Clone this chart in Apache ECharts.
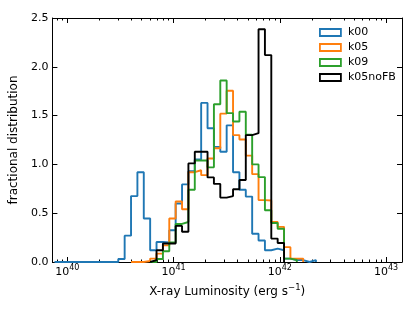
<!DOCTYPE html>
<html><head><meta charset="utf-8">
<script src="https://cdn.jsdelivr.net/npm/echarts@6/dist/echarts.min.js"></script>
<style>html,body{margin:0;padding:0;background:#fff}#c{width:415px;height:312px}</style>
</head><body><div id="c"></div>
<script>
// ---- data (fractional distribution per 0.06 dex bin in log10 L_X) ----
const seriesNames = ['k00', 'k05', 'k09', 'k05noFB'];
const colors = ['#1f77b4', '#ff7f0e', '#2ca02c', '#000000'];
const binOrigin = 40;      // log10 L of bin index 0
const binWidth = 0.06;     // dex

const k00Start = -2;
const k00 = [0,0,0,0,0,0,0,0,0,0,
  0.03,0.27,0.675,0.92,0.445,0.12,0.205,0.20,0.325,0.60,
  0.795,0.93,1.05,1.63,1.37,1.18,1.13,1.40,0.92,0.74,
  0.67,0.29,0.22,0.12,0.137,0.12,0.035,0.02,0.02,0.0,0.02];

const k05Start = 10;
const k05 = [0,0,0.01,0.035,0.086,0.17,0.445,0.62,0.54,0.92,
  0.94,0.89,1.06,1.165,1.52,1.755,1.30,1.255,1.09,0.90,
  0.634,0.63,0.41,0.36,0.152,0.035,0.035];

const k09Start = 13;
const k09 = [0,0.03,0.11,0.20,0.39,0.41,0.74,1.04,1.04,0.97,
  1.617,1.86,1.525,1.44,1.54,1.305,1.0,0.87,0.53,0.40,
  0.34,0.035,0.02];

const k05noFBStart = 13;
const k05noFB = [0.02,0.12,0.19,0.19,0.37,0.31,1.01,1.13,1.13,0.867,
  0.80,0.66,0.675,0.745,0.84,1.30,1.32,2.385,2.12,0.24,0.195];

const xMajorTicks = [40, 41, 42, 43];
const yTicks = [0, 0.5, 1.0, 1.5, 2.0, 2.5];
const xMin = 39.86, xMax = 43.15;

// ---- build ----
function stepPath(start, vals) {
  const pts = [[binOrigin + binWidth * start, 0]];
  vals.forEach((v, i) => {
    const l = binOrigin + binWidth * (start + i);
    pts.push([l, v], [l + binWidth, v]);
  });
  pts.push([binOrigin + binWidth * (start + vals.length), 0]);
  return pts;
}
const allSeries = [[k00Start, k00], [k05Start, k05], [k09Start, k09], [k05noFBStart, k05noFB]];

const xMinor = [];
for (let n = 39; n <= 43; n++) for (let m = 2; m <= 9; m++) {
  const v = n + Math.log10(m);
  if (v > xMin && v < xMax) xMinor.push(v);
}

const FONT = 'DejaVu Sans';
const tickRich = {
  b: { fontSize: 11, fontFamily: FONT, color: '#000', lineHeight: 14, verticalAlign: 'bottom' },
  s: { fontSize: 8, fontFamily: FONT, color: '#000', lineHeight: 8, verticalAlign: 'top' }
};
const nameRich = {
  b: { fontSize: 12, fontFamily: FONT, color: '#000', lineHeight: 15, verticalAlign: 'bottom' },
  s: { fontSize: 8.5, fontFamily: FONT, color: '#000', lineHeight: 9, verticalAlign: 'top' }
};
const baseX = { type: 'value', min: xMin, max: xMax, splitLine: { show: false } };
const chart = echarts.init(document.getElementById('c'), null, { renderer: 'canvas' });
chart.setOption({
  animation: false,
  backgroundColor: '#fff',
  grid: { left: 51, right: 13, top: 18, bottom: 50 },
  legend: {
    orient: 'vertical', left: 314, top: 21, icon: 'rect',
    itemWidth: 21, itemHeight: 7, itemGap: 2,
    textStyle: { fontSize: 11, fontFamily: FONT, color: '#000', lineHeight: 13, padding: [0, 0, 0, 2] },
    data: seriesNames.map((n, i) => ({ name: n, icon: 'rect', itemStyle: { color: 'rgba(0,0,0,0)', borderColor: colors[i], borderWidth: 1.8 } }))
  },
  xAxis: [
    Object.assign({}, baseX, {
      position: 'bottom',
      axisLine: { show: true, lineStyle: { color: '#000', width: 1 } },
      axisTick: { show: true, inside: true, length: 5, customValues: xMajorTicks, lineStyle: { color: '#000' } },
      axisLabel: { customValues: xMajorTicks, margin: 2, formatter: v => '{b|10}{s|' + Math.round(v) + '}', rich: tickRich },
      name: '{b|X-ray Luminosity (erg s}{s|−1}{b|)}', nameLocation: 'middle', nameGap: 15,
      nameTextStyle: { rich: nameRich }
    }),
    Object.assign({}, baseX, {
      position: 'bottom', axisLine: { show: false },
      axisTick: { show: true, inside: true, length: 2.5, customValues: xMinor, lineStyle: { color: '#000' } },
      axisLabel: { show: false }
    }),
    Object.assign({}, baseX, {
      position: 'top', axisLine: { show: true, lineStyle: { color: '#000', width: 1 } },
      axisTick: { show: true, inside: true, length: 5, customValues: xMajorTicks, lineStyle: { color: '#000' } },
      axisLabel: { show: false }
    }),
    Object.assign({}, baseX, {
      position: 'top', axisLine: { show: false },
      axisTick: { show: true, inside: true, length: 2.5, customValues: xMinor, lineStyle: { color: '#000' } },
      axisLabel: { show: false }
    })
  ],
  yAxis: [
    {
      type: 'value', min: 0, max: 2.5, interval: 0.5, position: 'left',
      splitLine: { show: false },
      axisLine: { show: true, lineStyle: { color: '#000', width: 1 } },
      axisTick: { show: true, inside: true, length: 5, lineStyle: { color: '#000' } },
      axisLabel: { fontSize: 11, fontFamily: FONT, color: '#000', margin: 4, formatter: v => v.toFixed(1) },
      name: 'fractional distribution', nameLocation: 'middle', nameGap: 23,
      nameTextStyle: { fontSize: 12, fontFamily: FONT, color: '#000' }
    },
    {
      type: 'value', min: 0, max: 2.5, interval: 0.5, position: 'right',
      splitLine: { show: false },
      axisLine: { show: true, lineStyle: { color: '#000', width: 1 } },
      axisTick: { show: true, inside: true, length: 5, lineStyle: { color: '#000' } },
      axisLabel: { show: false }
    }
  ],
  series: allSeries.map(([s, v], i) => ({
    name: seriesNames[i], type: 'line', xAxisIndex: 0, yAxisIndex: 0,
    data: stepPath(s, v), showSymbol: false, symbol: 'none',
    lineStyle: { color: colors[i], width: 1.9 }, itemStyle: { color: colors[i] },
    emphasis: { disabled: true }
  }))
});
</script></body></html>
